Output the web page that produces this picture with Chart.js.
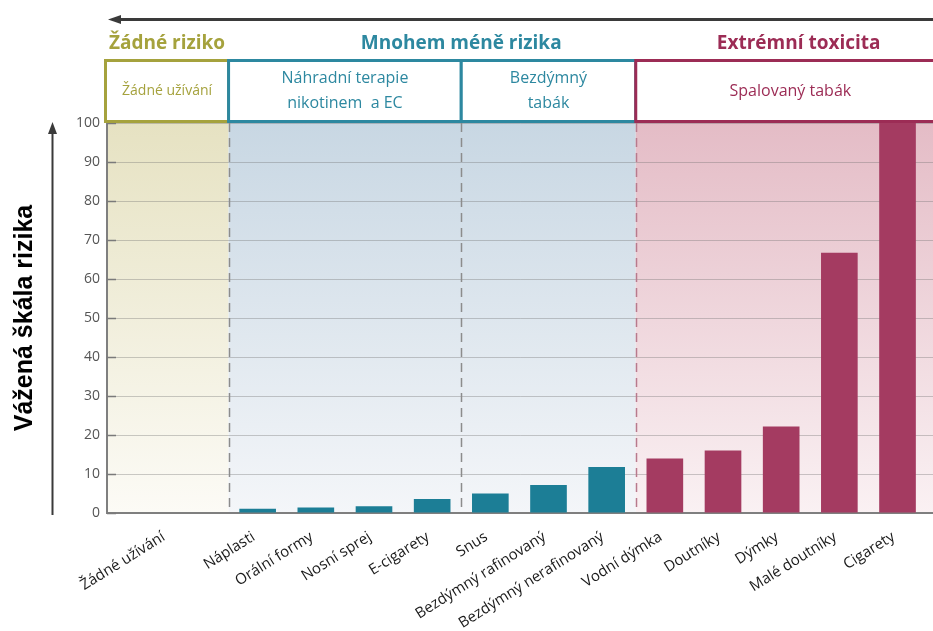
<!DOCTYPE html>
<html>
<head>
<meta charset="utf-8">
<script src="https://cdn.jsdelivr.net/npm/chart.js@4/dist/chart.umd.min.js"></script>
<style>
  html, body { margin: 0; padding: 0; background: #ffffff; }
  #wrap { width: 933px; height: 631px; position: relative; }
</style>
</head>
<body>
<div id="wrap"><canvas id="c"></canvas></div>
<script>
// ---- data ----
const categories = ['Žádné užívání', 'Náplasti', 'Orální formy', 'Nosní sprej', 'E-cigarety', 'Snus',
  'Bezdýmný rafinovaný', 'Bezdýmný nerafinovaný', 'Vodní dýmka', 'Doutníky', 'Dýmky', 'Malé doutníky', 'Cigarety'];
const riskValues = [0, 1.1, 1.4, 1.7, 3.6, 5.0, 7.2, 11.8, 14.0, 16.0, 22.2, 66.7, 100];
const yTickValues = [0, 10, 20, 30, 40, 50, 60, 70, 80, 90, 100];
const groupTitles = ['Žádné riziko', 'Mnohem méně rizika', 'Extrémní toxicita'];
const subgroupLabels = [['Žádné užívání'], ['Náhradní terapie', 'nikotinem  a EC'], ['Bezdýmný', 'tabák'], ['Spalovaný tabák']];
const subgroupLastIndex = [0, 4, 7, 12];
const subgroupGroup = [0, 1, 1, 2];
const yAxisTitle = 'Vážená škála rizika';

// ---- layout / style ----
const X_MIN = -1.59, X_MAX = 12.61;
const zeroCenter = (X_MIN + 0.5) / 2;
const catPos = i => (i === 0 ? zeroCenter : i);
const groupColors = ['#a5a23d', '#2d88a0', '#9c2c55'];
const barColors = ['#a5a23d', '#1c7e96', '#a43b61'];
const bgTop = ['#e6e2c2', '#c8d7e3', '#e4bcc6'];
const bgBottom = ['#fcfbf6', '#f4f6f9', '#faf1f3'];
const groupOfCat = i => { for (let s = 0; s < subgroupLastIndex.length; s++) if (i <= subgroupLastIndex[s]) return subgroupGroup[s]; return 2; };

const decor = {
  id: 'decor',
  beforeDraw(chart) {
    const { ctx, chartArea: a, scales: { x } } = chart;
    let start = a.left;
    for (let g = 0; g < 3; g++) {
      let lastIdx = -1;
      subgroupLastIndex.forEach((li, s) => { if (subgroupGroup[s] === g) lastIdx = li; });
      const end = g === 2 ? a.right : x.getPixelForValue(lastIdx + 0.5);
      const grd = ctx.createLinearGradient(0, a.top, 0, a.bottom);
      grd.addColorStop(0, bgTop[g]);
      grd.addColorStop(1, bgBottom[g]);
      ctx.fillStyle = grd;
      ctx.fillRect(start, a.top, end - start, a.bottom - a.top);
      start = end;
    }
  },
  beforeDatasetsDraw(chart) {
    const { ctx, chartArea: a, scales: { x, y } } = chart;
    ctx.save();
    ctx.setLineDash([9, 6]);
    ctx.lineWidth = 1.5;
    subgroupLastIndex.slice(0, -1).forEach((li, s) => {
      const px = Math.round(x.getPixelForValue(li + 0.5)) + 0.5;
      ctx.strokeStyle = subgroupGroup[s + 1] === 2 ? '#b87a8d' : '#8c8c8c';
      ctx.beginPath(); ctx.moveTo(px, a.top); ctx.lineTo(px, a.bottom); ctx.stroke();
    });
    ctx.setLineDash([]);
    ctx.strokeStyle = '#7a7a7a';
    ctx.lineWidth = 1.5;
    yTickValues.forEach(v => {
      const py = Math.round(y.getPixelForValue(v)) + 0.5;
      ctx.beginPath(); ctx.moveTo(a.left, py); ctx.lineTo(a.left + 9, py); ctx.stroke();
    });
    ctx.restore();
  },
  afterDraw(chart) {
    const { ctx, chartArea: a, scales: { x } } = chart;
    ctx.save();
    ctx.strokeStyle = '#3a3a3a'; ctx.fillStyle = '#3a3a3a';
    ctx.lineWidth = 3;
    ctx.beginPath(); ctx.moveTo(118, 19.5); ctx.lineTo(933, 19.5); ctx.stroke();
    ctx.beginPath(); ctx.moveTo(108, 19.5); ctx.lineTo(121, 15); ctx.lineTo(121, 24); ctx.closePath(); ctx.fill();
    ctx.lineWidth = 2;
    ctx.beginPath(); ctx.moveTo(52.5, 515); ctx.lineTo(52.5, 130); ctx.stroke();
    ctx.beginPath(); ctx.moveTo(52.5, 122); ctx.lineTo(48, 134); ctx.lineTo(57, 134); ctx.closePath(); ctx.fill();

    const boxTop = 60.5, boxBottom = a.top - 1.5;
    let left = a.left - 1.5;
    const boxCenters = [];
    subgroupLastIndex.forEach((li, s) => {
      const right = s === subgroupLastIndex.length - 1 ? a.right + 12 : x.getPixelForValue(li + 0.5);
      const col = groupColors[subgroupGroup[s]];
      ctx.fillStyle = '#ffffff';
      ctx.fillRect(left, boxTop, right - left, boxBottom - boxTop);
      ctx.strokeStyle = col; ctx.lineWidth = 3;
      ctx.strokeRect(left, boxTop, right - left, boxBottom - boxTop);
      const cx = (left + right) / 2;
      boxCenters.push(cx);
      ctx.fillStyle = col;
      ctx.textAlign = 'center'; ctx.textBaseline = 'middle';
      const lines = subgroupLabels[s];
      ctx.font = (s === 0 ? '14px' : '16px') + ' "Open Sans"';
      const mid = (boxTop + boxBottom) / 2;
      lines.forEach((t, k) => {
        ctx.fillText(t, cx, mid + (k - (lines.length - 1) / 2) * 25);
      });
      left = right;
    });
    const titleX = [boxCenters[0], x.getPixelForValue(4.5), x.getPixelForValue(10.3)];
    ctx.font = 'bold 19px "Open Sans"';
    ctx.textAlign = 'center'; ctx.textBaseline = 'middle';
    groupTitles.forEach((t, g) => {
      ctx.fillStyle = groupColors[g];
      ctx.fillText(t, titleX[g], 44);
    });
    ctx.restore();
  }
};

new Chart(document.getElementById('c'), {
  type: 'bar',
  data: {
    datasets: [{
      data: riskValues.map((v, i) => ({ x: catPos(i), y: v })),
      backgroundColor: riskValues.map((v, i) => barColors[groupOfCat(i)]),
      borderWidth: 0,
      categoryPercentage: 1,
      barPercentage: 0.63
    }]
  },
  options: {
    responsive: true,
    maintainAspectRatio: false,
    animation: false,
    layout: { padding: { top: 123, right: 0, left: 0, bottom: 0 } },
    plugins: { legend: { display: false }, tooltip: { enabled: false } },
    scales: {
      x: {
        type: 'linear',
        offset: false,
        bounds: 'data',
        min: X_MIN, max: X_MAX,
        afterBuildTicks: s => { s.ticks = categories.map((c, i) => ({ value: catPos(i) })); },
        afterFit: s => { s.height = 118; },
        grid: { display: true, drawOnChartArea: false, drawTicks: false, offset: false },
        border: { display: true, color: '#7f7f7f', width: 2 },
        ticks: {
          autoSkip: false, minRotation: 32, maxRotation: 32, padding: 15, labelOffset: -4,
          color: '#1a1a1a', font: { family: 'Open Sans', size: 15 },
          callback: (v, i) => categories[i]
        }
      },
      y: {
        min: 0, max: 100,
        afterBuildTicks: s => { s.ticks = yTickValues.map(v => ({ value: v })); },
        afterFit: s => { s.width = 107; },
        grid: { color: 'rgba(110,110,110,0.35)', lineWidth: 1, drawTicks: false },
        border: { display: true, color: '#7f7f7f', width: 2 },
        ticks: { padding: 7, color: '#555555', font: { family: 'Open Sans', size: 14 } },
        title: {
          display: true, text: yAxisTitle, color: '#000000',
          font: { family: 'Liberation Sans', size: 25, weight: 'bold' },
          padding: { top: 10, bottom: 0 }
        }
      }
    }
  },
  plugins: [decor]
});
</script>
</body>
</html>
